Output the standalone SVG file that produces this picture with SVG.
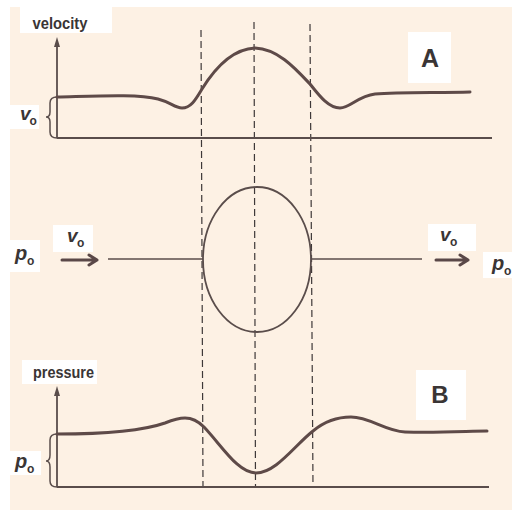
<svg xmlns="http://www.w3.org/2000/svg" width="512" height="512" viewBox="0 0 512 512">
<defs>
<style>
.bg{fill:#fdf1e4}
.box{fill:#ffffff}
.lbl{font-family:"Liberation Sans",Arial,sans-serif;font-weight:bold;fill:#3a3535}
.it{font-style:italic}
.curve{fill:none;stroke:#5e4a48;stroke-width:3;stroke-linecap:round;stroke-linejoin:round}
.axis{fill:none;stroke:#5a4d4b;stroke-width:1.8}
.thin{fill:none;stroke:#5a4d4b;stroke-width:1.5}
.dash{fill:none;stroke:#3e3838;stroke-width:1.2;stroke-dasharray:7 4}
.arr{fill:none;stroke:#5a4848;stroke-width:3;stroke-linecap:round;stroke-linejoin:round}
</style>
</defs>
<rect width="512" height="512" fill="#ffffff"/>
<rect class="bg" x="10" y="7" width="502" height="503"/>

<g id="dashed-lines">
<line class="dash" x1="201" y1="30" x2="203" y2="488"/>
<line class="dash" x1="254" y1="22" x2="255.5" y2="488"/>
<line class="dash" x1="310" y1="24" x2="313" y2="488"/>
</g>

<g id="velocity-graph">
<rect class="box" x="20" y="7" width="92" height="26"/>
<text class="lbl" x="60" y="29" font-size="16.5" text-anchor="middle" textLength="55" lengthAdjust="spacingAndGlyphs">velocity</text>
<line class="axis" x1="57" y1="44" x2="57" y2="138"/>
<path d="M57,37 L54,47 L60,47 Z" fill="#5a4d4b"/>
<line class="axis" x1="57" y1="138" x2="492" y2="138"/>
<path class="thin" d="M57,97 Q50,97 50,103 L50,112 Q50,117 46,117 Q50,117 50,122 L50,132 Q50,138 57,138"/>
<rect class="box" x="10" y="105" width="29" height="24"/>
<text class="lbl it" x="20" y="120" font-size="19">v</text>
<text class="lbl" x="29.5" y="125" font-size="12">o</text>
<path class="curve" d="M57,97 C100,96 138,94 158,99 C170,102 175,108 182,108 C191,108 196,99 202,89 C215,68 232,49 255,48 C278,49 295,68 310,84 C318,94 328,108 340,108 C350,108 358,96 375,94 C400,92 440,93 470,92"/>
<rect class="box" x="408" y="32" width="43" height="51"/>
<text class="lbl" x="430" y="67" font-size="25" text-anchor="middle">A</text>
</g>

<g id="sphere-flow">
<ellipse cx="257" cy="259.5" rx="54" ry="72.5" fill="none" stroke="#5a4d4b" stroke-width="1.8"/>
<line class="thin" x1="108" y1="259" x2="203" y2="259"/>
<line class="thin" x1="311" y1="259" x2="422" y2="259"/>
<rect class="box" x="10" y="240" width="30" height="32"/>
<text class="lbl it" x="15" y="260" font-size="20">p</text>
<text class="lbl" x="27" y="265" font-size="12">o</text>
<rect class="box" x="53" y="225" width="40" height="27"/>
<text class="lbl it" x="67" y="242" font-size="19">v</text>
<text class="lbl" x="77" y="247" font-size="12">o</text>
<path class="arr" d="M62,260 L97,260 M89,255 L97,260 L89,265"/>
<rect class="box" x="428" y="224" width="48" height="27"/>
<text class="lbl it" x="440" y="241" font-size="19">v</text>
<text class="lbl" x="450" y="246" font-size="12">o</text>
<path class="arr" d="M436,260 L468,260 M460,255 L468,260 L460,265"/>
<rect class="box" x="483" y="252" width="29" height="26"/>
<text class="lbl it" x="492" y="270" font-size="20">p</text>
<text class="lbl" x="504" y="275" font-size="12">o</text>
</g>

<g id="pressure-graph">
<rect class="box" x="22" y="360" width="75" height="24"/>
<text class="lbl" x="33" y="378" font-size="17" textLength="61" lengthAdjust="spacingAndGlyphs">pressure</text>
<line class="axis" x1="57" y1="393" x2="57" y2="487"/>
<path d="M57,386 L54,396 L60,396 Z" fill="#5a4d4b"/>
<line class="axis" x1="57" y1="487" x2="489" y2="487"/>
<path class="thin" d="M57,434 Q50,434 50,440 L50,455 Q50,461 46,461 Q50,461 50,467 L50,481 Q50,487 57,487"/>
<rect class="box" x="10" y="451" width="31" height="24"/>
<text class="lbl it" x="15" y="468" font-size="20">p</text>
<text class="lbl" x="27" y="473" font-size="12">o</text>
<path class="curve" d="M57,434 C110,434 145,430 165,423 C175,419 180,418 185,418 C193,418 198,421 204,427 C222,446 238,473 256,473 C276,473 295,445 313,431 C325,421 338,417 351,417 C370,417 385,431 405,432 C440,433 470,431 487,431"/>
<rect class="box" x="416" y="370" width="50" height="50"/>
<text class="lbl" x="440" y="403" font-size="24" text-anchor="middle">B</text>
</g>
</svg>
